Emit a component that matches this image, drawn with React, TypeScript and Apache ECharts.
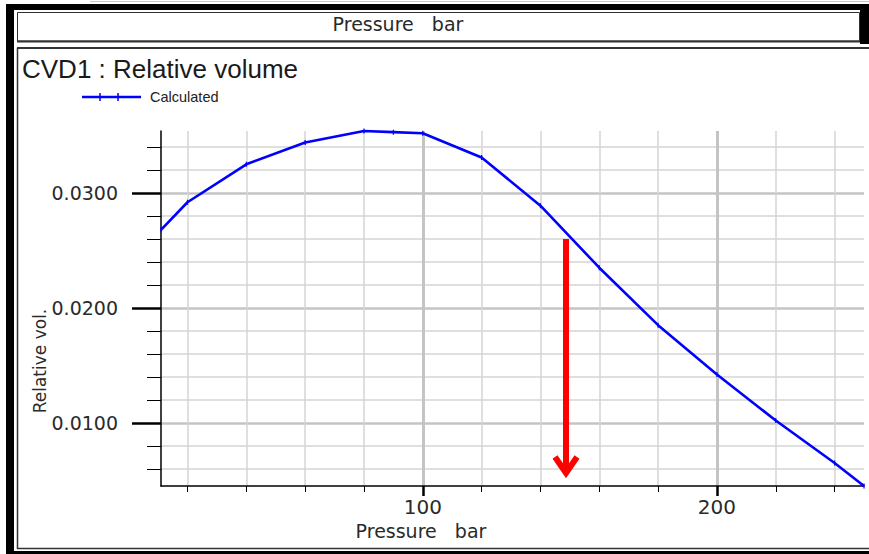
import React, { useEffect, useRef } from "react";
import * as echarts from "echarts";

// Data
const pressure = [11, 20, 40, 60, 80, 90, 100, 120, 140, 160, 180, 200, 220, 240, 250];
const relVol = [0.0268, 0.0292, 0.0325, 0.0344, 0.0354, 0.0353, 0.0352, 0.0331, 0.0289, 0.0235, 0.0185, 0.0142, 0.0102, 0.0065, 0.0045];

const xRange = [11, 250];
const yRange = [0.0045, 0.0354];
const xMinorTicks = [20, 40, 60, 80, 120, 140, 160, 180, 220, 240];
const xMajorTicks = [100, 200];
const yMinorTicks = [0.006, 0.008, 0.012, 0.014, 0.016, 0.018, 0.022, 0.024, 0.026, 0.028, 0.032, 0.034];
const yMajorTicks = [0.01, 0.02, 0.03];

const titleText = "CVD1 : Relative volume";
const seriesName = "Calculated";
const xName = "Pressure   bar";
const yName = "Relative vol.";

const FONT = "DejaVu Sans";
const TXT = "#2a2a2a";

export default function App() {
  const ref = useRef<HTMLDivElement>(null);
  useEffect(() => {
    if (!ref.current) return;
    const chart = echarts.init(ref.current, null, { renderer: "svg" });
    const labelStyle = { color: TXT, fontFamily: FONT };
    const option: any = {
      animation: false,
      backgroundColor: "#fff",
      grid: { left: 161, top: 131, width: 703, height: 355, containLabel: false },
      xAxis: [
        {
          type: "value", min: xRange[0], max: xRange[1], position: "bottom",
          axisLine: { show: true, lineStyle: { color: "#000", width: 1.5 } },
          axisTick: { show: true, length: 6, customValues: xMinorTicks, lineStyle: { color: "#000", width: 1 } },
          axisLabel: { show: false },
          splitLine: { show: true, lineStyle: { color: "#d4d4d4", width: 1.5 } },
        },
        {
          type: "value", min: xRange[0], max: xRange[1], position: "bottom", offset: 0,
          axisLine: { show: false },
          axisTick: { show: true, length: 10, customValues: xMajorTicks, lineStyle: { color: "#000", width: 2.5 } },
          axisLabel: { show: true, customValues: xMajorTicks, margin: 11, fontSize: 20, ...labelStyle },
          splitLine: { show: true, lineStyle: { color: "#c4c4c4", width: 3 } },
        },
      ],
      yAxis: [
        {
          type: "value", min: yRange[0], max: yRange[1], position: "left",
          axisLine: { show: true, lineStyle: { color: "#000", width: 1.5 } },
          axisTick: { show: true, length: 14, customValues: yMinorTicks, lineStyle: { color: "#000", width: 1 } },
          axisLabel: { show: false },
          splitLine: { show: true, lineStyle: { color: "#d4d4d4", width: 1.5 } },
        },
        {
          type: "value", min: yRange[0], max: yRange[1], position: "left", offset: 0,
          axisLine: { show: false },
          axisTick: { show: true, length: 29, customValues: yMajorTicks, lineStyle: { color: "#000", width: 2.5 } },
          axisLabel: {
            show: true, customValues: yMajorTicks, margin: 43, fontSize: 19, ...labelStyle,
            formatter: (v: number) => v.toFixed(4),
          },
          splitLine: { show: true, lineStyle: { color: "#c4c4c4", width: 2.5 } },
        },
      ],
      series: [
        {
          name: seriesName,
          type: "line",
          xAxisIndex: 0,
          yAxisIndex: 0,
          data: pressure.map((p, i) => [p, relVol[i]]),
          symbol: "rect",
          symbolSize: [1.2, 5],
          showSymbol: true,
          clip: false,
          z: 10,
          itemStyle: { color: "#0000ff" },
          lineStyle: { color: "#0000ff", width: 2.6 },
        },
      ],
      graphic: [
        // outer frame
        { type: "line", shape: { x1: 90, y1: 1.5, x2: 869, y2: 1.5 }, style: { stroke: "#c8c8c8", lineWidth: 1 } },
        { type: "rect", shape: { x: 6, y: 4, width: 8, height: 550 }, style: { fill: "#000" } },
        { type: "rect", shape: { x: 6, y: 4, width: 863, height: 6 }, style: { fill: "#000" } },
        { type: "rect", shape: { x: 860, y: 4, width: 9, height: 40 }, style: { fill: "#000" } },
        { type: "rect", shape: { x: 6, y: 551, width: 863, height: 3 }, style: { fill: "#000" } },
        // top box
        { type: "rect", shape: { x: 17.5, y: 12.5, width: 842, height: 28.5 }, style: { fill: "none", stroke: "#333", lineWidth: 1 } },
        { type: "line", shape: { x1: 17, y1: 41.5, x2: 860, y2: 41.5 }, style: { stroke: "#333", lineWidth: 2 } },
        { type: "text", style: { text: xName, x: 398, y: 23.5, align: "center", verticalAlign: "middle", fontSize: 19, fontFamily: FONT, fill: TXT } },
        // main panel
        { type: "line", shape: { x1: 17, y1: 48, x2: 869, y2: 48 }, style: { stroke: "#333", lineWidth: 2 } },
        { type: "line", shape: { x1: 17.5, y1: 48, x2: 17.5, y2: 549 }, style: { stroke: "#333", lineWidth: 1.5 } },
        { type: "line", shape: { x1: 17, y1: 548.5, x2: 869, y2: 548.5 }, style: { stroke: "#333", lineWidth: 1.5 } },
        // title
        { type: "text", style: { text: titleText, x: 22, y: 69, align: "left", verticalAlign: "middle", fontSize: 26, fontFamily: "Liberation Sans", fill: "#1a1a1a" } },
        // legend
        { type: "line", shape: { x1: 82, y1: 97, x2: 141, y2: 97 }, style: { stroke: "#0000ff", lineWidth: 2.5 } },
        { type: "line", shape: { x1: 100, y1: 93, x2: 100, y2: 101 }, style: { stroke: "#0000ff", lineWidth: 1.5 } },
        { type: "line", shape: { x1: 118, y1: 93, x2: 118, y2: 101 }, style: { stroke: "#0000ff", lineWidth: 1.5 } },
        { type: "text", style: { text: seriesName, x: 150, y: 97, align: "left", verticalAlign: "middle", fontSize: 14.5, fontFamily: "Liberation Sans", fill: "#222" } },
        // axis names
        { type: "text", style: { text: xName, x: 421, y: 531, align: "center", verticalAlign: "middle", fontSize: 19, fontFamily: FONT, fill: TXT } },
        { type: "text", x: 40, y: 361, rotation: Math.PI / 2, style: { text: yName, x: 0, y: 0, align: "center", verticalAlign: "middle", fontSize: 17, fontFamily: FONT, fill: TXT } },
        // red arrow annotation
        { type: "line", z: 50, shape: { x1: 566, y1: 239, x2: 566, y2: 474 }, style: { stroke: "#ff0000", lineWidth: 6 } },
        { type: "polyline", z: 50, shape: { points: [[555, 457], [566, 473], [577, 457]] }, style: { stroke: "#ff0000", lineWidth: 6, fill: "none", lineJoin: "miter" } },
      ],
    };
    chart.setOption(option);
    return () => chart.dispose();
  }, []);
  return (
    <div style={{ position: "fixed", left: 0, top: 0, width: 869, height: 554, background: "#fff" }}>
      <div ref={ref} style={{ width: 869, height: 554 }} />
    </div>
  );
}
